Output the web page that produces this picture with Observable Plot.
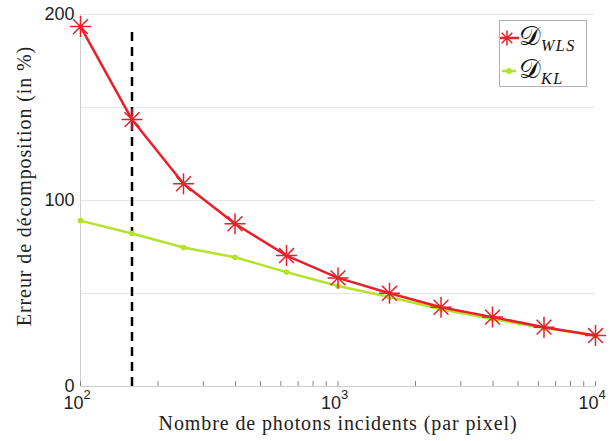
<!DOCTYPE html>
<html>
<head>
<meta charset="utf-8">
<script src="https://cdn.jsdelivr.net/npm/d3@7"></script>
<script src="https://cdn.jsdelivr.net/npm/@observablehq/plot@0.6"></script>
<style>
  body { margin: 0; background: #fff; }
  #wrap { position: relative; width: 610px; height: 441px; overflow: hidden; }
  #chart svg { display: block; }
  #legend { position: absolute; left: 499px; top: 20px; width: 88px; height: 67px;
            box-sizing: border-box; border: 1px solid #b0b0b0; background: #fff; }
  #ytitle { position: absolute; left: 24px; top: 186px; transform: translate(-50%, -50%) rotate(-90deg);
            white-space: nowrap; font-family: "Liberation Serif", serif; font-size: 20px; letter-spacing: 0.9px; color: #222; }
</style>
</head>
<body>
<div id="wrap">
  <div id="chart"></div>
  <div id="ytitle"></div>
  <div id="legend"></div>
</div>
<script>
// Data
const photons = [100, 158.5, 251.2, 398.1, 631, 1000, 1585, 2512, 3981, 6310, 10000];
const wls = [193.5, 143.5, 109, 87.5, 70.4, 58.4, 50.1, 42.6, 37.3, 31.9, 27.4];
const kl  = [89.2, 82.3, 74.7, 69.5, 61.5, 54.0, 48.1, 41.5, 36.3, 31.4, 27.4];
const seriesNames = ["WLS", "KL"];
const thresholdX = [158.5];
const thresholdY = [0, 193];
const yTicks = [0, 100, 200];
const yGrid = [0, 50, 100, 150, 200];
const xMajor = [100, 1000, 10000];
const xMinor = [200,300,400,500,600,700,800,900,2000,3000,4000,5000,6000,7000,8000,9000];
const xTitle = "Nombre de photons incidents (par pixel)";
const yTitle = "Erreur de décomposition (in %)";

const RED = "#e8202a";
const GREEN = "#b5e22a";

const wlsData = photons.map((x, i) => ({x, y: wls[i]}));
const klData = photons.map((x, i) => ({x, y: kl[i]}));

const asterisk = {
  draw(ctx, size) {
    const r = Math.sqrt(size / Math.PI);
    for (let k = 0; k < 4; k++) {
      const a = k * Math.PI / 4;
      ctx.moveTo(r * Math.cos(a), r * Math.sin(a));
      ctx.lineTo(-r * Math.cos(a), -r * Math.sin(a));
    }
  }
};

const SANS = "Liberation Sans, Arial, sans-serif";

const chart = Plot.plot({
  width: 610,
  height: 441,
  marginLeft: 80,
  marginRight: 15,
  marginTop: 14,
  marginBottom: 55,
  x: {type: "log", domain: [100, 10000]},
  y: {domain: [0, 200]},
  style: {background: "#fff"},
  marks: [
    Plot.gridY(yGrid, {stroke: "#e6e6e6", strokeOpacity: 1}),
    Plot.ruleX([100], {stroke: "#cfcfcf"}),
    Plot.ruleY([0], {stroke: "#cfcfcf"}),
    Plot.axisX(xMinor.concat(xMajor), {tickSize: -5, tickFormat: () => "", stroke: "#888", label: null}),
    Plot.text(xMajor, {x: d => d, frameAnchor: "bottom", lineAnchor: "middle", text: () => "10", textAnchor: "end",
      dx: 3, dy: 17, fontSize: 18, fontFamily: SANS, fill: "#222"}),
    Plot.text(xMajor, {x: d => d, frameAnchor: "bottom", lineAnchor: "middle", text: d => String(Math.round(Math.log10(d))),
      textAnchor: "start", dx: 3, dy: 8, fontSize: 13, fontFamily: SANS, fill: "#222"}),
    Plot.axisY(yTicks, {tickSize: 0, tickPadding: 6, fontSize: 18,
      fontFamily: SANS, fill: "#222", label: null}),
    Plot.ruleX(thresholdX, {y1: thresholdY[0], y2: thresholdY[1], stroke: "#000", strokeWidth: 2.5, strokeDasharray: "9,6"}),
    Plot.line(klData, {x: "x", y: "y", stroke: GREEN, strokeWidth: 2.5}),
    Plot.dot(klData, {x: "x", y: "y", r: 2.8, fill: GREEN}),
    Plot.line(wlsData, {x: "x", y: "y", stroke: RED, strokeWidth: 2.5}),
    Plot.dot(wlsData, {x: "x", y: "y", r: 10.5, symbol: asterisk, stroke: RED, strokeWidth: 1.5, fill: "none"}),
    Plot.text([xTitle], {frameAnchor: "bottom", lineAnchor: "middle", dy: 37,
      fontSize: 20, fontFamily: "Liberation Serif, serif", fill: "#222", text: d => d})
  ]
});
document.getElementById("chart").appendChild(chart);
d3.select(chart).selectAll("text").filter(function() { return this.textContent === xTitle; })
  .style("letter-spacing", "0.9px");
document.getElementById("ytitle").textContent = yTitle;

// Legend
const leg = d3.select("#legend");
const rows = [
  {name: seriesNames[0], color: RED, marker: "asterisk"},
  {name: seriesNames[1], color: GREEN, marker: "dot"}
];
rows.forEach((r, i) => {
  const row = leg.append("div").style("position", "absolute").style("left", "0px")
    .style("top", (i === 0 ? 2 : 35) + "px").style("height", "30px").style("display", "flex")
    .style("align-items", "center");
  const s = row.append("svg").attr("width", 19).attr("height", 30).style("flex", "none");
  if (r.marker === "asterisk") {
    s.append("line").attr("x1", 0).attr("x2", 19).attr("y1", 15).attr("y2", 15).attr("stroke", r.color).attr("stroke-width", 2.5);
    const p = d3.path();
    asterisk.draw(p, 7.5 * 7.5 * Math.PI);
    s.append("path").attr("d", p.toString()).attr("transform", "translate(7,15)").attr("stroke", r.color).attr("stroke-width", 1.5).attr("fill", "none");
  } else {
    s.append("line").attr("x1", 2).attr("x2", 16).attr("y1", 15).attr("y2", 15).attr("stroke", r.color).attr("stroke-width", 2.5);
    s.append("circle").attr("cx", 9).attr("cy", 15).attr("r", 3).attr("fill", r.color);
  }
  const t = row.append("div").style("color", "#111").style("white-space", "nowrap").style("line-height", "30px");
  t.append("span").style("font-size", "27px").style("font-family", "DejaVu Serif, serif").text("𝒟");
  t.append("span").style("font-size", "16px").style("font-style", "italic")
    .style("position", "relative").style("top", "6px").style("letter-spacing", "1.5px")
    .style("font-family", "Liberation Serif, serif").text(r.name);
});
</script>
</body>
</html>
